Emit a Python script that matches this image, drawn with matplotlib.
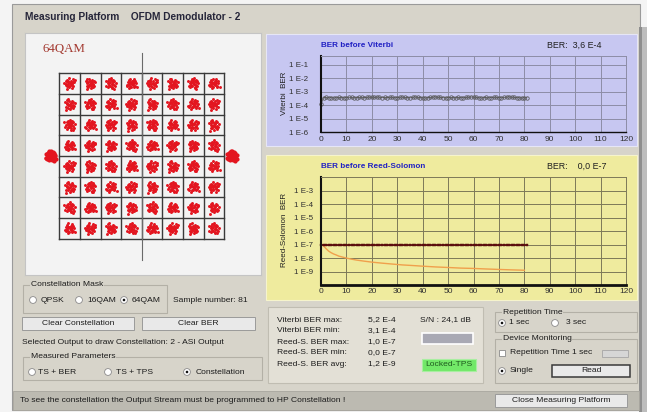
import matplotlib
matplotlib.use("Agg")
import matplotlib.pyplot as plt
from matplotlib.patches import Rectangle, Circle
from matplotlib.ticker import NullLocator
import numpy as np

# ---------------- data ----------------
samples = np.arange(0, 82)  # sample index 0..81

viterbi_ber = [
    1.2e-4, 3.7e-4, 3.8e-4, 3.6e-4, 3.7e-4, 3.5e-4, 3.6e-4, 3.8e-4, 3.7e-4, 3.6e-4,
    3.7e-4, 3.9e-4, 3.8e-4, 3.6e-4, 3.7e-4, 3.8e-4, 3.9e-4, 3.7e-4, 3.8e-4, 4.0e-4,
    3.9e-4, 3.8e-4, 4.1e-4, 3.9e-4, 3.7e-4, 3.8e-4, 3.7e-4, 3.9e-4, 3.8e-4, 3.6e-4,
    3.7e-4, 3.9e-4, 4.0e-4, 3.8e-4, 3.7e-4, 3.6e-4, 3.8e-4, 4.1e-4, 3.9e-4, 3.7e-4,
    3.6e-4, 3.5e-4, 3.7e-4, 3.8e-4, 4.0e-4, 4.2e-4, 3.9e-4, 3.8e-4, 3.7e-4, 3.6e-4,
    3.7e-4, 3.8e-4, 3.7e-4, 3.6e-4, 3.8e-4, 3.7e-4, 3.6e-4, 3.8e-4, 3.9e-4, 4.1e-4,
    4.0e-4, 3.8e-4, 3.6e-4, 3.5e-4, 3.7e-4, 3.8e-4, 3.6e-4, 3.7e-4, 3.9e-4, 3.8e-4,
    3.7e-4, 3.6e-4, 3.8e-4, 4.0e-4, 4.2e-4, 4.0e-4, 3.8e-4, 3.7e-4, 3.6e-4, 3.5e-4,
    3.6e-4, 3.7e-4,
]

rs_ber = [
    1e-7, 1e-7, 1e-7, 1e-7, 1e-7, 1e-7, 1e-7, 1e-7, 1e-7, 1e-7,
    1e-7, 1e-7, 1e-7, 1e-7, 1e-7, 1e-7, 1e-7, 1e-7, 1e-7, 1e-7,
    1e-7, 1e-7, 1e-7, 1e-7, 1e-7, 1e-7, 1e-7, 1e-7, 1e-7, 1e-7,
    1e-7, 1e-7, 1e-7, 1e-7, 1e-7, 1e-7, 1e-7, 1e-7, 1e-7, 1e-7,
    1e-7, 1e-7, 1e-7, 1e-7, 1e-7, 1e-7, 1e-7, 1e-7, 1e-7, 1e-7,
    1e-7, 1e-7, 1e-7, 1e-7, 1e-7, 1e-7, 1e-7, 1e-7, 1e-7, 1e-7,
    1e-7, 1e-7, 1e-7, 1e-7, 1e-7, 1e-7, 1e-7, 1e-7, 1e-7, 1e-7,
    1e-7, 1e-7, 1e-7, 1e-7, 1e-7, 1e-7, 1e-7, 1e-7, 1e-7, 1e-7,
    1e-7, 1e-7,
]

rs_avg_x = [0.5, 2, 3, 4, 5, 6, 7, 8, 10, 12, 14, 17, 20, 24, 28, 32, 36, 40,
            45, 50, 55, 60, 65, 70, 75, 80]
rs_avg = [1.0e-7, 5.0e-8, 3.3e-8, 2.5e-8, 2.0e-8, 1.7e-8, 1.4e-8, 1.25e-8,
          1.0e-8, 8.3e-9, 7.1e-9, 5.9e-9, 5.0e-9, 4.2e-9, 3.6e-9, 3.1e-9,
          2.8e-9, 2.5e-9, 2.2e-9, 2.0e-9, 1.8e-9, 1.7e-9, 1.55e-9, 1.43e-9,
          1.33e-9, 1.25e-9]

vit_ticks = [1e-1, 1e-2, 1e-3, 1e-4, 1e-5, 1e-6]
vit_labels = ["1 E-1", "1 E-2", "1 E-3", "1 E-4", "1 E-5", "1 E-6"]
rs_ticks = [1e-3, 1e-4, 1e-5, 1e-6, 1e-7, 1e-8, 1e-9]
rs_labels = ["1 E-3", "1 E-4", "1 E-5", "1 E-6", "1 E-7", "1 E-8", "1 E-9"]
x_ticks = [0, 10, 20, 30, 40, 50, 60, 70, 80, 90, 100, 110, 120]

qam_levels = [-7, -5, -3, -1, 1, 3, 5, 7]
grid_edges = [-8, -6, -4, -2, 0, 2, 4, 6, 8]
pilot_x = [-8.85, 8.75]
pilot_y = [0.0, 0.0]

# hand-typed noise cloud shapes (offsets around each constellation point)
cloud_a_dx = [0.00, 0.15, -0.20, 0.30, -0.35, 0.10, -0.05, 0.40, -0.45, 0.22, -0.18, 0.05,
              0.33, -0.30, 0.12, -0.10, 0.55, -0.60, 0.25, -0.25, 0.70, -0.15, 0.45, -0.50]
cloud_a_dy = [0.05, -0.20, 0.18, 0.10, -0.05, 0.35, -0.38, -0.25, 0.22, 0.28, -0.30, 0.00,
              -0.40, 0.40, -0.10, 0.12, 0.05, -0.20, 0.50, -0.55, -0.45, 0.60, 0.35, -0.35]
cloud_b_dx = [0.10, -0.25, 0.20, -0.10, 0.35, -0.40, 0.00, 0.28, -0.22, 0.15, -0.05, 0.42,
              -0.32, 0.08, 0.50, -0.55, 0.30, -0.20, 0.62, -0.65, 0.18, -0.35, 0.05, 0.38]
cloud_b_dy = [-0.05, 0.10, 0.25, -0.30, -0.15, 0.05, 0.40, 0.20, -0.20, -0.42, 0.15, 0.30,
              0.33, -0.10, -0.35, -0.25, 0.45, 0.50, 0.10, 0.30, -0.55, -0.45, 0.65, -0.60]

stat_names = ["Viterbi BER max:", "Viterbi BER min:", "Reed-S. BER max:",
              "Reed-S. BER min:", "Reed-S. BER avg:"]
stat_values = ["5,2 E-4", "3,1 E-4", "1,0 E-7", "0,0 E-7", "1,2 E-9"]

# ---------------- figure ----------------
FONT = "Liberation Sans"
plt.rcParams["font.family"] = [FONT, "DejaVu Sans"]
W, H = 647, 412
fig = plt.figure(figsize=(W / 100, H / 100), dpi=100)
WIN = "#d7d4ca"
FS = 6.1


def px_axes(x0, y0, x1, y1):
    return fig.add_axes([x0 / W, 1 - y1 / H, (x1 - x0) / W, (y1 - y0) / H])


bg = fig.add_axes([0, 0, 1, 1])
bg.axis("off")
bg.add_patch(Rectangle((0, 0), W, H, fc="#f4f4f4", ec="none"))
bg.add_patch(Rectangle((12, 4), 628, 406, fc=WIN, ec="#9a9a9a", lw=0.8))
bg.add_patch(Rectangle((640, 27), 7, 385, fc="#bdbdbd", ec="none"))
bg.add_patch(Rectangle((639, 27), 2.5, 385, fc="#8e8e8e", ec="none"))
grad = np.linspace(0.95, 0.80, 30).reshape(-1, 1)
bg.imshow(grad, extent=[12, 647, 27, 4], origin="upper", cmap="gray",
          vmin=0, vmax=1, aspect="auto")
bg.set_xlim(0, W)
bg.set_ylim(H, 0)
bg.text(25, 16.5, "Measuring Platform    OFDM Demodulator - 2", fontsize=7.3,
        fontweight="bold", color="#26263a", va="center")


def txt(x, y, s, size=FS, **kw):
    kw.setdefault("color", "#1c1c1c")
    kw.setdefault("ha", "left")
    bg.text(x, y, s, fontsize=size, va="center", **kw)


def radio(x, y, sel=False):
    bg.add_patch(Circle((x, y), 3.4, fc="white", ec="#8a8a8a", lw=0.6))
    if sel:
        bg.add_patch(Circle((x, y), 1.3, fc="#111111", ec="none"))


def checkbox(x, y):
    bg.add_patch(Rectangle((x - 3.4, y - 3.4), 6.8, 6.8, fc="white", ec="#8a8a8a", lw=0.6))


def button(x0, y0, x1, y1, label, dark=False):
    bg.add_patch(Rectangle((x0, y0), x1 - x0, y1 - y0, fc="#e9e9e9",
                           ec="#3a3a3a" if dark else "#9a9a9a", lw=1.1 if dark else 0.7))
    txt((x0 + x1) / 2, (y0 + y1) / 2, label, ha="center")


def group(x0, y0, x1, y1, label):
    bg.add_patch(Rectangle((x0, y0), x1 - x0, y1 - y0, fc="none", ec="#b3b0a6", lw=0.8))
    bg.text(x0 + 8, y0, label, fontsize=FS, va="center", color="#1c1c1c",
            bbox=dict(fc=WIN, ec="none", pad=0.4))


# ---------------- constellation ----------------
cx0, cy0, cx1, cy1 = 25, 33, 261, 275
ccx, ccy, sx, sy = 141.8, 156.0, 10.3, 10.35
cax = px_axes(cx0, cy0, cx1, cy1)
cax.set_facecolor("#f3f3f3")
cax.set_xlim((cx0 - ccx) / sx, (cx1 - ccx) / sx)
cax.set_ylim(-(cy1 - ccy) / sy, (ccy - cy0) / sy)
cax.set_xticks([])
cax.set_yticks([])
for s in cax.spines.values():
    s.set_color("#c4c4c4")
    s.set_linewidth(0.8)
for e in grid_edges:
    cax.plot([e, e], [-8, 8], color="#3a3a3a", lw=1.0, zorder=2)
    cax.plot([-8, 8], [e, e], color="#3a3a3a", lw=1.0, zorder=2)
cax.plot([0, 0], [-10, 10], color="#6a6a6a", lw=0.8, zorder=2)
pts_x, pts_y = [], []
SC = 0.8
for i, qi in enumerate(qam_levels):
    for j, qq in enumerate(qam_levels):
        k = (i * 3 + j) % 4
        if k == 0:
            dx, dy = cloud_a_dx, cloud_a_dy
        elif k == 1:
            dx, dy = cloud_b_dx, cloud_b_dy
        elif k == 2:
            dx, dy = cloud_a_dy, [-v for v in cloud_a_dx]
        else:
            dx, dy = [-v for v in cloud_b_dy], cloud_b_dx
        pts_x += [qi + SC * d for d in dx]
        pts_y += [qq + SC * d for d in dy]
cax.scatter(pts_x, pts_y, s=4.5, c="#e3151f", lw=0, zorder=3)
for px_, py_ in zip(pilot_x, pilot_y):
    bx = [px_ + 0.75 * d for d in cloud_a_dx + cloud_b_dx]
    by = [py_ + 0.75 * d for d in cloud_a_dy + cloud_b_dy]
    cax.scatter(bx, by, s=9, c="#e3151f", lw=0, zorder=3)
cax.text((42 - ccx) / sx, (ccy - 49) / sy, "64QAM", family="Liberation Serif",
         fontsize=9.3, color="#a3382f", va="center", ha="left")

# ---------------- BER panels ----------------
bg.add_patch(Rectangle((266, 34), 371, 112, fc="#c7c7f1", ec="#e6e6f6", lw=0.8))
bg.add_patch(Rectangle((266, 155), 371, 145, fc="#efeb9e", ec="#f6f4cc", lw=0.8))
bg.text(321, 45, "BER before Viterbi", fontsize=5.9, fontweight="bold", color="#2222c4", va="center")
bg.text(547, 45, "BER:  3,6 E-4", fontsize=6.4, color="#202020", va="center")
bg.text(321, 166.5, "BER before Reed-Solomon", fontsize=5.9, fontweight="bold", color="#2222c4", va="center")
bg.text(547, 166.5, "BER:    0,0 E-7", fontsize=6.4, color="#202020", va="center")
bg.text(285, 93, "Viterbi  BER", fontsize=5.8, rotation=90, va="center", ha="center", color="#202020")
bg.text(285, 230, "Reed-Solomon  BER", fontsize=5.8, rotation=90, va="center", ha="center", color="#202020")


def style_ber(ax, face, gridc, ticks, labels, ylim, ypad, xpad, botw):
    ax.set_facecolor(face)
    ax.set_yscale("log")
    ax.set_xlim(0, 120)
    ax.set_ylim(*ylim)
    ax.set_xticks(x_ticks)
    ax.set_yticks(ticks, labels)
    ax.yaxis.set_minor_locator(NullLocator())
    ax.grid(True, color=gridc, lw=0.7)
    ax.set_axisbelow(True)
    ax.tick_params(axis="y", length=0, labelsize=5.8, colors="#303030", pad=ypad)
    ax.tick_params(axis="x", length=0, labelsize=6.0, colors="#303030", pad=xpad)
    for side in ("top", "right"):
        ax.spines[side].set_color(gridc)
        ax.spines[side].set_linewidth(0.7)
    ax.spines["left"].set_color("#111111")
    ax.spines["left"].set_linewidth(1.5)
    ax.spines["bottom"].set_color("#111111")
    ax.spines["bottom"].set_linewidth(botw)


vax = px_axes(321, 56, 626, 132.3)
style_ber(vax, "#c7c7f1", "#8d8da6", vit_ticks, vit_labels, (1e-6, 10 ** -0.35), 9, 3, 1.0)
vax.plot(samples, viterbi_ber, color="#6a6a6a", lw=0.7, marker="o", ms=2.5,
         mfc="none", mec="#555555", mew=0.55, clip_on=False)

rax = px_axes(321, 177.3, 626, 285)
style_ber(rax, "#efeb9e", "#7d7958", rs_ticks, rs_labels, (1e-10, 1e-2), 6, 2.5, 2.0)
rax.plot(rs_avg_x, rs_avg, color="#f0a04c", lw=1.0)
rax.plot(samples, rs_ber, color="#5e1010", lw=1.2, marker="s", ms=2.0,
         mfc="#6a1212", mec="#4a0808", mew=0.3, clip_on=False)

# ---------------- lower-left controls ----------------
group(23, 285, 167, 313, "Constellation Mask")
radio(33, 300); txt(41, 300, "QPSK")
radio(79, 300); txt(87, 300, "16QAM")
radio(124, 300, True); txt(132, 300, "64QAM")
txt(173, 300, "Sample number: 81")
button(22, 317, 134, 330, "Clear Constellation")
button(142, 317, 255, 330, "Clear BER")
txt(22, 343, "Selected Output to draw Constellation: 2 - ASI Output")
group(23, 357, 262, 380, "Measured Parameters")
radio(32, 372); txt(38, 372, "TS + BER")
radio(108, 372); txt(116, 372, "TS + TPS")
radio(187, 372, True); txt(196, 372, "Constellation")

# ---------------- statistics panel ----------------
bg.add_patch(Rectangle((268, 307), 215, 76, fc="#e3e0d6", ec="#c0bdb2", lw=0.8))
for k, (nm, vl) in enumerate(zip(stat_names, stat_values)):
    yy = 320 + k * 11
    txt(277, yy, nm)
    txt(368, yy, vl)
txt(420, 320, "S/N : 24,1 dB")
bg.add_patch(Rectangle((422, 333), 51, 11, fc="#a9a9b4", ec="white", lw=1.2))
bg.add_patch(Rectangle((422, 359), 54, 12, fc="#72e868", ec="#a8eea0", lw=0.8))
txt(449, 365, "Locked-TPS", ha="center", color="#1f5a1f")

# ---------------- right controls ----------------
group(495, 312, 637, 332, "Repetition Time")
radio(502, 323, True); txt(509, 323, "1 sec")
radio(555, 323); txt(566, 323, "3 sec")
group(495, 339, 637, 383, "Device Monitoring")
checkbox(502, 353); txt(510, 353, "Repetition Time 1 sec")
bg.add_patch(Rectangle((602, 350), 26, 7, fc="#d6d6d6", ec="#a5a5a5", lw=0.6))
radio(502, 371, True); txt(510, 371, "Single")
button(552, 365, 630, 377, "Read", dark=True)

# ---------------- status bar ----------------
bg.add_patch(Rectangle((13, 391), 626, 19, fc="#bcbab1", ec="#a8a69e", lw=0.6))
txt(20, 400, "To see the constellation the Output Stream must be programmed to HP Constellation !")
button(495, 394, 627, 407, "Close Measuring Platform")

fig.savefig("out.png", dpi=100)
